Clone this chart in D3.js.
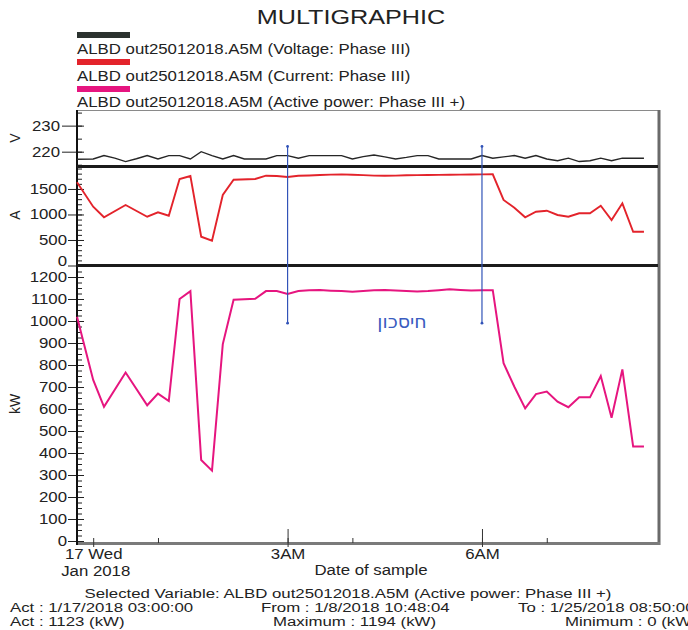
<!DOCTYPE html>
<html>
<head>
<meta charset="utf-8">
<script src="https://cdn.jsdelivr.net/npm/d3@7"></script>
<style>
  body { margin: 0; background: #fff; }
  svg { display: block; font-family: "Liberation Sans", Arial, sans-serif; }
</style>
</head>
<body>
<svg id="chart" width="688" height="630"></svg>
<script>
/******** Data ********/
// minutes after 00:00, 17 Jan 2018
var sampleMinutes = [-15, 0, 10, 30, 50, 60, 70, 80, 90, 100, 110, 120, 130,
  150, 160, 170, 180, 190, 200, 210, 220, 230, 240, 250, 260, 270, 280, 290,
  300, 310, 320, 330, 340, 350, 360, 370, 380, 390, 400, 410, 420, 430, 440,
  450, 460, 470, 480, 490, 500, 510];

var currentA = [1630, 1152, 945, 1186, 956, 1043, 976, 1695, 1754, 564, 486, 1382, 1681,
  1695, 1760, 1754, 1734, 1760, 1765, 1772, 1780, 1785, 1778, 1770, 1762, 1758, 1762, 1768,
  1770, 1772, 1775, 1778, 1780, 1783, 1785, 1787, 1284, 1133, 945, 1054, 1074, 990, 956,
  1023, 1023, 1172, 892, 1219, 662, 662];

var powerKW = [1019, 732, 610, 766, 617, 670, 636, 1100, 1136, 368, 320, 895, 1097,
  1101, 1136, 1136, 1123, 1136, 1140, 1141, 1138, 1136, 1133, 1136, 1140, 1141, 1139, 1136,
  1134, 1136, 1140, 1144, 1141, 1139, 1140, 1140, 808, 701, 603, 668, 679, 633, 608,
  653, 653, 750, 560, 780, 429, 429];

var voltMinutes = [-15, 0, 10, 20, 30, 40, 50, 60, 70, 80, 90, 100, 110, 120, 130, 140,
  150, 160, 170, 180, 190, 200, 210, 220, 230, 240, 250, 260, 270, 280, 290, 300, 310,
  320, 330, 340, 350, 360, 370, 380, 390, 400, 410, 420, 430, 440, 450, 460, 470, 480,
  490, 500, 510];

var voltageV = [217.1, 217.2, 218.5, 217.5, 216.2, 217.3, 218.5, 217.2, 218.5, 218.5, 217.2,
  220.0, 218.5, 217.2, 218.5, 217.2, 217.2, 217.2, 218.5, 218.5, 217.5, 218.5, 218.5, 218.5,
  218.5, 217.2, 218.1, 218.7, 218.0, 217.2, 217.8, 218.5, 218.5, 217.2, 217.2, 217.2, 217.2,
  218.5, 217.5, 218.0, 218.5, 217.5, 218.5, 217.2, 216.5, 217.5, 216.2, 216.5, 217.5, 216.5,
  217.5, 217.5, 217.5];

// cursors (minutes), drawn from a voltage level down to a power level
var cursorMinutes = [180, 360];
var cursorTopV = 222;
var cursorBottomKW = 990;

var legendLabels = [
  "ALBD out25012018.A5M (Voltage: Phase III)",
  "ALBD out25012018.A5M (Current: Phase III)",
  "ALBD out25012018.A5M (Active power: Phase III +)"
];
var legendColors = ["#2b322f", "#e3232b", "#e6157f"];

var voltTicks = [220, 230];
var currentTicks = [0, 500, 1000, 1500];
var powerTicks = [0, 100, 200, 300, 400, 500, 600, 700, 800, 900, 1000, 1100, 1200];

var xTickHours = [0, 3, 6];
var xTickLabels = ["17 Wed", "3AM", "6AM"];
var xMinorHours = [1, 4, 7];

var footerLines = [
  ["Act : 1/17/2018 03:00:00", "From : 1/8/2018 10:48:04", "To : 1/25/2018 08:50:00"],
  ["Act : 1123 (kW)", "Maximum : 1194 (kW)", "Minimum : 0 (kW)"]
];

/******** Helpers ********/
var baseTime = new Date(2018, 0, 17, 0, 0, 0);
function toDate(m) { return new Date(baseTime.getTime() + m * 60000); }

// the scan is wider than tall: widen text a bit
function stretch(sel, k) {
  sel.each(function () {
    var w = this.getComputedTextLength();
    d3.select(this).attr("textLength", w * k).attr("lengthAdjust", "spacingAndGlyphs");
  });
}

var svg = d3.select("#chart");
var left = 77, right = 658;

/******** Scales ********/
var x = d3.scaleTime().domain([toDate(-15), toDate(523)]).range([left, right]);
var yV = d3.scaleLinear().domain([214.5, 236]).range([166, 110]);
var yA = d3.scaleLinear().domain([0, 1940]).range([265.5, 166.5]);
var yP = d3.scaleLinear().domain([0, 1250]).range([541, 266]);

/******** Title & legend ********/
svg.append("text")
  .attr("x", 351).attr("y", 24)
  .attr("text-anchor", "middle")
  .style("font-size", "21px").style("fill", "#222")
  .text("MULTIGRAPHIC")
  .call(stretch, 1.2);

legendLabels.forEach(function (lab, i) {
  svg.append("rect")
    .attr("x", 77).attr("y", 32 + i * 27)
    .attr("width", 53).attr("height", 6)
    .attr("fill", legendColors[i]);
  svg.append("text")
    .attr("x", 77).attr("y", 54 + i * 26.5)
    .style("font-size", "14px").style("fill", "#222")
    .text(lab)
    .call(stretch, 1.2);
});

/******** Frame ********/
svg.append("line").attr("x1", left).attr("x2", right).attr("y1", 110.5).attr("y2", 110.5)
  .attr("stroke", "#8a8a8a").attr("stroke-width", 1);
svg.append("line").attr("x1", right + 1).attr("x2", right + 1).attr("y1", 110).attr("y2", 545)
  .attr("stroke", "#6a6a6a").attr("stroke-width", 3);
svg.append("line").attr("x1", left).attr("x2", right + 2).attr("y1", 543.5).attr("y2", 543.5)
  .attr("stroke", "#7a7a7a").attr("stroke-width", 3);

/******** Axes ********/
function leftAxis(scale, ticks, minorStep, outer, pad) {
  var dom = scale.domain();
  var minors = d3.range(Math.ceil(dom[0] / minorStep) * minorStep, dom[1], minorStep);
  svg.append("g")
    .attr("class", "axis")
    .attr("transform", "translate(" + left + ",0)")
    .call(d3.axisLeft(scale).tickValues(minors).tickSize(-5).tickFormat(""));
  var g = svg.append("g")
    .attr("class", "axis")
    .attr("transform", "translate(" + left + ",0)")
    .call(d3.axisLeft(scale).tickValues(ticks).tickSize(outer).tickPadding(pad)
      .tickFormat(d3.format("d")));
  g.selectAll(".tick").append("line").attr("x2", 7).attr("stroke", "#222");
  g.selectAll("text")
    .style("font-size", "14px").style("fill", "#222")
    .attr("font-family", null)
    .call(stretch, 1.2);
  return g;
}

leftAxis(yV, voltTicks, 5, 15, 2);
var gA = leftAxis(yA, currentTicks, 100, 9, 1);
gA.selectAll(".tick").filter(function (d) { return d === 0; }).select("text").attr("y", -4);
leftAxis(yP, powerTicks, 25, 9, 1);

svg.selectAll(".axis .domain").remove();
svg.selectAll(".axis line").attr("stroke", "#222");

// left border
svg.append("line").attr("x1", left).attr("x2", left).attr("y1", 110).attr("y2", 545)
  .attr("stroke", "#111").attr("stroke-width", 2);

// x axis
var xAll = xTickHours.concat(xMinorHours).map(function (h) { return toDate(h * 60); });
svg.append("g")
  .attr("transform", "translate(0,543)")
  .call(d3.axisBottom(x).tickValues(xAll).tickSize(-5).tickFormat(""))
  .call(function (g) { g.select(".domain").remove(); g.selectAll("line").attr("stroke", "#333"); });
svg.append("g")
  .attr("transform", "translate(0,543)")
  .call(d3.axisBottom(x).tickValues(xTickHours.slice(1).map(function (h) { return toDate(h * 60); }))
    .tickSize(-14).tickFormat(""))
  .call(function (g) { g.select(".domain").remove(); g.selectAll("line").attr("stroke", "#333"); });

var gx = svg.append("g")
  .attr("transform", "translate(0,543)")
  .call(d3.axisBottom(x)
    .tickValues(xTickHours.map(function (h) { return toDate(h * 60); }))
    .tickSize(4).tickPadding(2)
    .tickFormat(function (d, i) { return xTickLabels[i]; }));
gx.select(".domain").remove();
gx.selectAll("line").attr("stroke", "#333");
gx.selectAll("text")
  .attr("font-family", null)
  .style("font-size", "14px").style("fill", "#222")
  .call(stretch, 1.2);
gx.select(".tick text")
  .clone()
  .attr("textLength", null)
  .attr("dy", "1.95em")
  .attr("dx", 2)
  .text("Jan 2018")
  .call(stretch, 1.2);

svg.append("text")
  .attr("x", 371).attr("y", 575)
  .attr("text-anchor", "middle")
  .style("font-size", "14px").style("fill", "#222")
  .text("Date of sample")
  .call(stretch, 1.2);

// unit labels
[["V", 138], ["A", 215], ["kW", 404]].forEach(function (u) {
  svg.append("text")
    .attr("transform", "translate(20," + u[1] + ") rotate(-90)")
    .attr("text-anchor", "middle")
    .style("font-size", "14px").style("fill", "#222")
    .text(u[0]);
});

/******** Lines ********/
var voltLine = d3.line()
  .x(function (d, i) { return x(toDate(voltMinutes[i])); })
  .y(function (d) { return yV(d); });
var currentLine = d3.line()
  .x(function (d, i) { return x(toDate(sampleMinutes[i])); })
  .y(function (d) { return yA(d); });
var powerLine = d3.line()
  .x(function (d, i) { return x(toDate(sampleMinutes[i])); })
  .y(function (d) { return yP(d); });

svg.append("path").datum(voltageV).attr("d", voltLine)
  .attr("fill", "none").attr("stroke", "#262626").attr("stroke-width", 1.4);
svg.append("path").datum(currentA).attr("d", currentLine)
  .attr("fill", "none").attr("stroke", legendColors[1]).attr("stroke-width", 1.9);
svg.append("path").datum(powerKW).attr("d", powerLine)
  .attr("fill", "none").attr("stroke", legendColors[2]).attr("stroke-width", 2);

// panel separators
[166.5, 265.5].forEach(function (yy) {
  svg.append("line").attr("x1", left).attr("x2", right).attr("y1", yy).attr("y2", yy)
    .attr("stroke", "#1b1b1b").attr("stroke-width", 3);
});

/******** Cursors ********/
cursorMinutes.forEach(function (m) {
  var cx = x(toDate(m));
  svg.append("line")
    .attr("x1", cx).attr("x2", cx)
    .attr("y1", yV(cursorTopV)).attr("y2", yP(cursorBottomKW))
    .attr("stroke", "#3153b8").attr("stroke-width", 1.2);
  [yV(cursorTopV), yP(cursorBottomKW)].forEach(function (cy) {
    svg.append("circle").attr("cx", cx).attr("cy", cy).attr("r", 1.4).attr("fill", "#3153b8");
  });
});

// handwritten note
svg.append("text")
  .attr("x", 402).attr("y", 328)
  .attr("text-anchor", "middle")
  .style("font-family", "'DejaVu Sans', sans-serif")
  .style("font-size", "19px")
  .style("fill", "#3a5cc0")
  .text("חיסכון");

/******** Footer ********/
svg.append("text")
  .attr("x", 348).attr("y", 598)
  .attr("text-anchor", "middle")
  .style("font-size", "12px").style("fill", "#222")
  .text("Selected Variable: ALBD out25012018.A5M (Active power: Phase III +)")
  .call(stretch, 1.4);

var footerX = [10, 261, 518];
var footerX2 = [10, 273, 565];
footerLines.forEach(function (row, r) {
  row.forEach(function (t, c) {
    svg.append("text")
      .attr("x", r === 0 ? footerX[c] : footerX2[c])
      .attr("y", 612 + r * 14)
      .style("font-size", "12px").style("fill", "#222")
      .text(t)
      .call(stretch, 1.4);
  });
});
</script>
</body>
</html>
